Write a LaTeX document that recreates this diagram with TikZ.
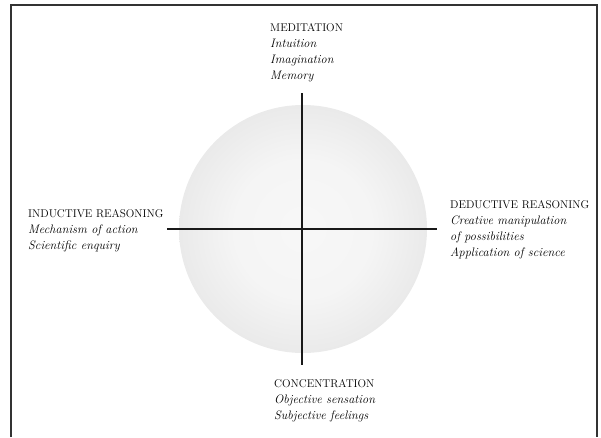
\documentclass[tikz,border=0pt]{standalone}
\usepackage{tikz}
\usetikzlibrary{calc}
\pgfdeclareradialshading{globe}{\pgfpoint{0bp}{0bp}}{color(0bp)=(black!3); color(14bp)=(black!4); color(32bp)=(black!11); color(44bp)=(black!20); color(50bp)=(black!27)}
\tikzset{
  labl/.style={anchor=north west, inner sep=0pt, align=left, text=black, font=\fontsize{12.3}{16}\selectfont},
  axis/.style={line width=1.1pt, black!90}
}
\newcommand{\hd}[1]{{\fontsize{11.2}{16}\selectfont #1}}

\begin{document}
\begin{tikzpicture}[x=1pt,y=-1pt]
        \useasboundingbox (0,0) rectangle (601,437);
        % frame
        \draw[line width=1.4pt, black!80] (11,437) -- (11,5) -- (597,5) -- (597,437);
        % sphere
        \coordinate (ctr) at (303,229);
        \shade[shading=globe] (ctr) circle (124);
        % ends of the axes
        \coordinate (top) at (302,93);
        \coordinate (bot) at (302,365);
        \coordinate (lft) at (167,229);
        \coordinate (rgt) at (437,229);
        \draw[axis] (top) -- (bot);
        \draw[axis] (lft) -- (rgt);
        % labels
        \node[labl] (medit) at (270,23) {\hd{MEDITATION}\\ \textit{Intuition}\\ \textit{Imagination}\\ \textit{Memory}};
        \node[labl] (induct) at (28,209) {\hd{INDUCTIVE REASONING}\\ \textit{Mechanism of action}\\ \textit{Scientific enquiry}};
        \node[labl] (deduct) at (450,200) {\hd{DEDUCTIVE REASONING}\\ \textit{Creative manipulation}\\ \textit{of possibilities}\\ \textit{Application of science}};
        \node[labl] (concen) at (274,379) {\hd{CONCENTRATION}\\ \textit{Objective sensation}\\ \textit{Subjective feelings}};
    \end{tikzpicture}
\end{document}
